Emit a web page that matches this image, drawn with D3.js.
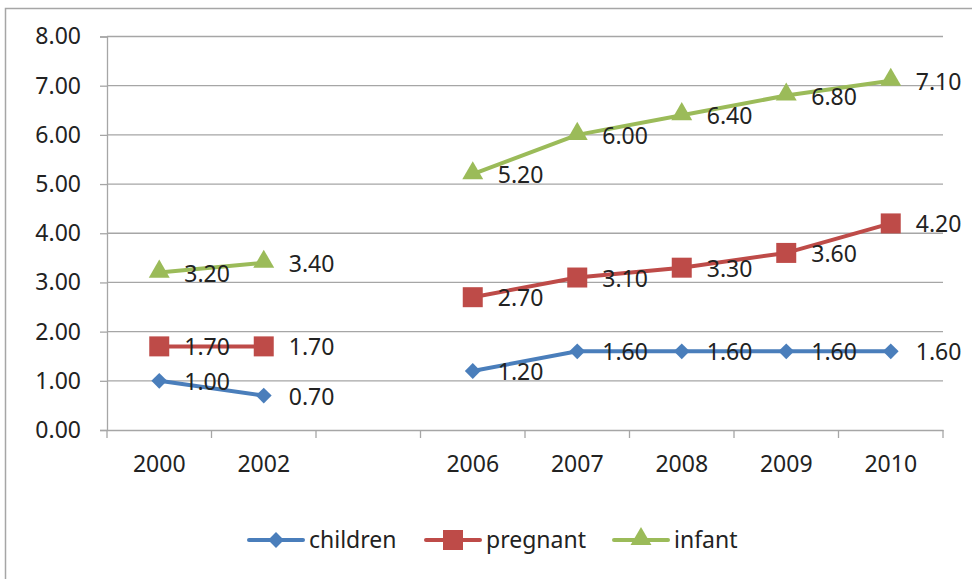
<!DOCTYPE html>
<html>
<head>
<meta charset="utf-8">
<script src="https://cdn.jsdelivr.net/npm/d3@7"></script>
<style>
  body { margin: 0; background: #fff; }
  svg text { font-family: "Noto Sans", sans-serif; fill: #222; }
</style>
</head>
<body>
<svg id="chart" width="972" height="579"></svg>
<script>
const years = ["2000", "2002", "", "2006", "2007", "2008", "2009", "2010"];
const children = [1.0, 0.7, null, 1.2, 1.6, 1.6, 1.6, 1.6];
const pregnant = [1.7, 1.7, null, 2.7, 3.1, 3.3, 3.6, 4.2];
const infant = [3.2, 3.4, null, 5.2, 6.0, 6.4, 6.8, 7.1];
const yTicks = [0, 1, 2, 3, 4, 5, 6, 7, 8];

const series = [
  { name: "children", values: children, color: "#4A7EBB", shape: "diamond" },
  { name: "pregnant", values: pregnant, color: "#BE4B48", shape: "square" },
  { name: "infant", values: infant, color: "#9BBB59", shape: "triangle" }
];

const svg = d3.select("#chart");
const fs = 23;

// outer frame (only top and left visible)
svg.append("rect")
  .attr("x", 5.5).attr("y", 8.5)
  .attr("width", 1000).attr("height", 600)
  .attr("fill", "none").attr("stroke", "#a6a6a6").attr("stroke-width", 1.5);

const plotLeft = 107, plotRight = 943, plotTop = 36.5, plotBottom = 430;

const x = d3.scaleBand().domain(d3.range(years.length)).range([plotLeft, plotRight]);
const y = d3.scaleLinear().domain([0, 8]).range([plotBottom, plotTop]);

// gridlines
svg.append("g")
  .selectAll("line")
  .data(yTicks.filter(d => d > 0))
  .enter().append("line")
  .attr("x1", plotLeft).attr("x2", plotRight)
  .attr("y1", d => y(d)).attr("y2", d => y(d))
  .attr("stroke", "#a6a6a6").attr("stroke-width", 1.3);

// y axis
const yAxis = svg.append("g")
  .attr("transform", `translate(${plotLeft},0)`)
  .call(d3.axisLeft(y).tickValues(yTicks).tickFormat(d3.format(".2f")).tickSize(7).tickPadding(19));
yAxis.select(".domain").attr("stroke", "#a6a6a6").attr("stroke-width", 1.3);
yAxis.selectAll(".tick line").attr("stroke", "#a6a6a6").attr("stroke-width", 1.3);
yAxis.selectAll("text").style("font-size", fs + "px").attr("fill", "#222")
  .style("font-family", "'Noto Sans', sans-serif");

// x axis
const xAxis = svg.append("g")
  .attr("transform", `translate(0,${plotBottom})`)
  .call(d3.axisBottom(x).tickFormat(i => years[i]).tickSize(0).tickPadding(26));
xAxis.select(".domain").attr("stroke", "#a6a6a6").attr("stroke-width", 1.3);
xAxis.selectAll("text").style("font-size", fs + "px").attr("fill", "#222")
  .style("font-family", "'Noto Sans', sans-serif");
// category separators
xAxis.selectAll(".sep")
  .data(d3.range(years.length + 1))
  .enter().append("line")
  .attr("x1", i => plotLeft + i * x.step()).attr("x2", i => plotLeft + i * x.step())
  .attr("y1", 0).attr("y2", 8)
  .attr("stroke", "#a6a6a6").attr("stroke-width", 1.3);

const cx = i => x(i) + x.bandwidth() / 2;

const symbolFor = shape => {
  if (shape === "diamond") return d3.symbol().type(d3.symbolSquare).size(125)();
  if (shape === "square") return d3.symbol().type(d3.symbolSquare).size(400)();
  return d3.symbol().type(d3.symbolTriangle).size(190)();
};
const symbolTf = shape => shape === "diamond" ? " rotate(45)" : shape === "triangle" ? " translate(0,-1)" : "";

const line = d3.line()
  .defined(d => d.v !== null)
  .x(d => cx(d.i))
  .y(d => y(d.v));

series.forEach(s => {
  const pts = s.values.map((v, i) => ({ v, i }));
  svg.append("path")
    .datum(pts)
    .attr("d", line)
    .attr("fill", "none")
    .attr("stroke", s.color)
    .attr("stroke-width", 4)
    .attr("stroke-linejoin", "round");

  svg.append("g")
    .selectAll("path")
    .data(pts.filter(d => d.v !== null))
    .enter().append("path")
    .attr("d", symbolFor(s.shape))
    .attr("transform", d => `translate(${cx(d.i)},${y(d.v)})` + symbolTf(s.shape))
    .attr("fill", s.color);
});

// data labels
series.forEach(s => {
  svg.append("g")
    .selectAll("text")
    .data(s.values.map((v, i) => ({ v, i })).filter(d => d.v !== null))
    .enter().append("text")
    .attr("x", d => cx(d.i) + 25)
    .attr("y", d => y(d.v) + 9)
    .style("font-size", fs + "px")
    .text(d => d.v.toFixed(2));
});

// legend
const legendY = 540;
const legendX = [249, 426, 614];
series.forEach((s, k) => {
  const g = svg.append("g").attr("transform", `translate(${legendX[k]},${legendY})`);
  g.append("line").attr("x1", 0).attr("x2", 54).attr("y1", 0).attr("y2", 0)
    .attr("stroke", s.color).attr("stroke-width", 4).attr("stroke-linecap", "round");
  g.append("path")
    .attr("d", symbolFor(s.shape))
    .attr("transform", `translate(27,0)` + symbolTf(s.shape))
    .attr("fill", s.color);
  g.append("text").attr("x", 60).attr("y", 8)
    .style("font-size", fs + "px")
    .text(s.name);
});
</script>
</body>
</html>
